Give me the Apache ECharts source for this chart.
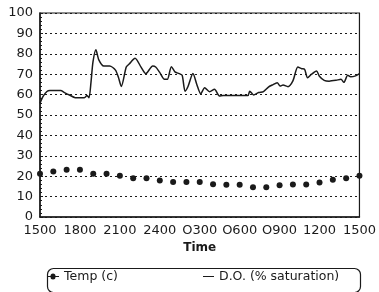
<!DOCTYPE html>
<html>
<head>
<meta charset="utf-8">
<script src="https://cdn.jsdelivr.net/npm/echarts@6/dist/echarts.min.js"></script>
<style>
html,body{margin:0;padding:0;background:#fff;}
#chart{width:379px;height:292px;}
</style>
</head>
<body>
<div id="chart"></div>
<script>
// Time tick labels (every 3 hours from 1500 to 1500)
var timeLabels = ['1500','1800','2100','2400','O300','O600','O900','1200','1500'];

// Temperature (c), hourly readings, hour offset from 1500
var tempHours = [0,1,2,3,4,5,6,7,8,9,10,11,12,13,14,15,16,17,18,19,20,21,22,23,24];
var tempValues = [21.2,22.3,23.2,23.2,21.2,21.2,20.2,19,19,17.9,17.2,17.2,17.2,16.1,15.8,15.8,14.6,14.6,15.6,15.9,15.9,16.9,18.2,19,20.2];

// Dissolved oxygen (% saturation), hour offset from 1500
var doHours = [0.0,0.22,0.52,0.74,1.55,1.84,2.21,2.65,3.31,3.53,3.68,3.83,3.98,4.20,4.42,4.79,5.23,5.67,5.89,6.11,6.48,6.70,7.14,7.59,7.95,8.47,8.69,8.98,9.35,9.57,9.87,10.16,10.46,10.68,10.90,11.12,11.49,11.78,12.08,12.37,12.74,13.11,13.48,13.77,15.61,15.76,16.05,16.42,16.79,17.16,17.45,17.82,18.04,18.26,18.63,19.00,19.37,19.66,19.88,20.10,20.40,20.77,20.99,21.35,21.72,22.24,22.61,22.83,23.12,23.34,23.71,24.0];
var doValues = [55.7,59,61.5,62,62,61,59.8,58.5,58.4,59.5,58.5,66,76,82,77,74,74,72,68.5,64,73.5,75,77.8,73.5,70.3,74,73.5,71,67.5,67.5,73.7,71,70.3,69.5,61.7,64,70.3,65,60.4,63.4,61.4,62.6,59.3,59.5,59.5,61.7,59.8,61,61.5,63.7,64.7,65.8,64.2,64.7,63.9,66.7,73.5,72.7,72.4,68.3,70,71.6,69,67,66.6,67,67.5,66,69.5,68.7,69.2,70.3];

var seriesNames = ['Temp (c)', 'D.O. (% saturation)'];

var FONT = 'DejaVu Sans';
var INK = '#1a1a1a';

var tempData = tempHours.map(function(h,i){return [h,tempValues[i]];});
var doData = doHours.map(function(h,i){return [h,doValues[i]];});

var legendText = {fontFamily:FONT, fontSize:12.5, color:INK};

var chart = echarts.init(document.getElementById('chart'), null, {renderer:'canvas'});
chart.setOption({
  animation:false,
  backgroundColor:'#fff',
  textStyle:{fontFamily:FONT, color:INK},
  grid:{left:40, right:13, top:13, bottom:75, show:true, borderColor:INK, borderWidth:1.2, containLabel:false},
  xAxis:{
    type:'value', min:0, max:24, interval:3,
    name:'Time', nameLocation:'middle', nameGap:25,
    nameTextStyle:{fontFamily:FONT, fontSize:12, color:INK, fontWeight:'bold'},
    axisLine:{show:true, lineStyle:{color:INK, width:1.5}},
    axisTick:{show:false},
    splitLine:{show:false},
    axisLabel:{fontFamily:FONT, fontSize:13, color:INK, margin:7, showMinLabel:true, showMaxLabel:true,
      formatter:function(v){return timeLabels[Math.round(v/3)];}}
  },
  yAxis:{
    type:'value', min:0, max:100, interval:10,
    axisLine:{show:true, lineStyle:{color:INK, width:1.5}},
    axisTick:{show:true, inside:true, length:3, lineStyle:{color:INK}},
    minorTick:{show:true, splitNumber:5, length:2, lineStyle:{color:INK}},
    splitLine:{show:true, lineStyle:{color:INK, type:[2,3], width:1}},
    axisLabel:{fontFamily:FONT, fontSize:13, color:INK, margin:7}
  },
  graphic:[
    {type:'rect', left:45, top:266, shape:{width:313, height:24, r:6},
      style:{fill:'none', stroke:INK, lineWidth:1.2}, silent:true}
  ],
  legend:[
    {left:47, top:270, padding:0, itemWidth:12, itemHeight:6, itemGap:5, textStyle:legendText,
      data:[{name:seriesNames[0], icon:'path://M0,2.5h3.5a2.5,2.5 0 0 1 5,0h3.5v1h-3.5a2.5,2.5 0 0 1 -5,0h-3.5z'}]},
    {left:203, top:270, padding:0, itemWidth:11, itemHeight:6, itemGap:5, textStyle:legendText,
      data:[{name:seriesNames[1], icon:'path://M0,2.5h11v1h-11z'}]}
  ],
  series:[
    {name:seriesNames[0], type:'line', data:tempData, symbol:'circle', symbolSize:6,
      showSymbol:true, showAllSymbol:true,
      lineStyle:{width:0, opacity:0}, itemStyle:{color:INK, borderWidth:0}, z:3},
    {name:seriesNames[1], type:'line', data:doData, showSymbol:false, symbol:'none', smooth:0.25,
      lineStyle:{color:INK, width:1.5}, itemStyle:{color:INK}, z:2}
  ]
});
</script>
</body>
</html>
